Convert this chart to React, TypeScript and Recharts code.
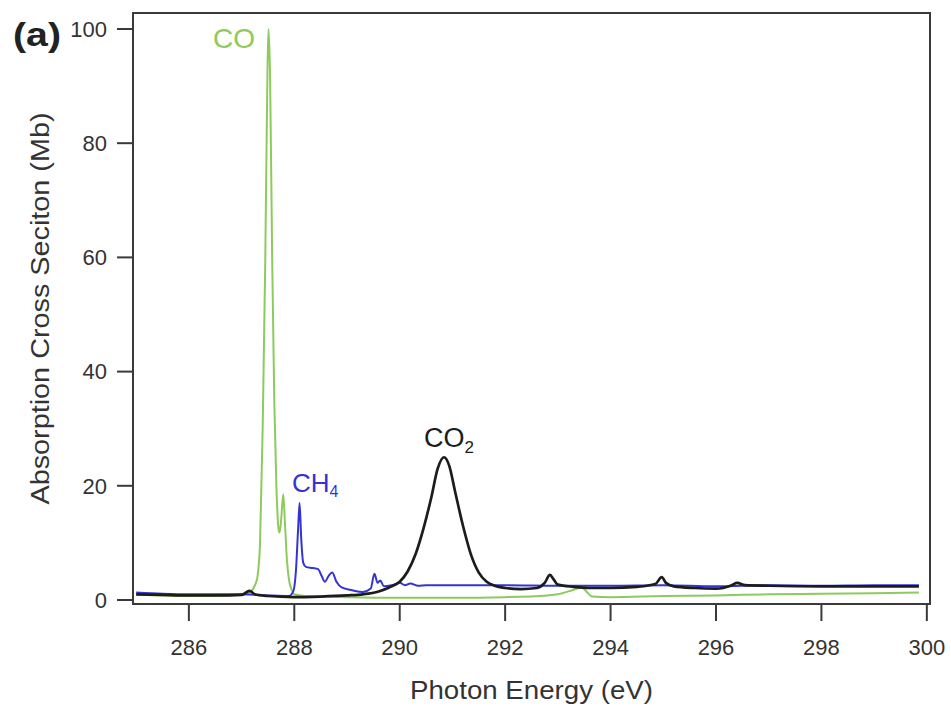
import React from 'react';
import { LineChart, Line, XAxis, YAxis, ReferenceArea, Label } from 'recharts';

// photon energy (eV) / cross section (Mb)
const coEnergy = [285.0, 285.5, 286.0, 286.5, 287.0, 287.15, 287.25, 287.3, 287.35, 287.4, 287.45, 287.49, 287.51, 287.54, 287.58, 287.62, 287.66, 287.7, 287.72, 287.75, 287.79, 287.82, 287.86, 287.9, 287.95, 288.0, 288.2, 289.0, 290.0, 291.0, 292.0, 292.8, 293.0, 293.3, 293.45, 293.55, 293.65, 294.0, 295.0, 296.0, 297.0, 298.0, 299.0, 299.85];
const coValues = [0.9, 0.8, 0.7, 0.7, 0.9, 1.3, 2.5, 4, 10, 30, 60, 92, 100, 92, 60, 35, 20, 12.5, 11.8, 14, 18.5, 14, 7, 3.5, 1.8, 1.0, 0.7, 0.5, 0.4, 0.4, 0.5, 0.8, 1.0, 1.8, 2.2, 1.4, 0.6, 0.5, 0.7, 0.8, 1.0, 1.1, 1.2, 1.3];

const ch4Energy = [285.0, 285.5, 286.0, 287.0, 287.5, 287.9, 287.98, 288.03, 288.07, 288.1, 288.13, 288.17, 288.22, 288.35, 288.45, 288.52, 288.58, 288.65, 288.72, 288.8, 288.9, 289.1, 289.3, 289.45, 289.52, 289.58, 289.63, 289.7, 289.85, 290.0, 290.1, 290.2, 290.35, 290.5, 291.0, 291.5, 292.0, 293.0, 294.0, 295.0, 296.0, 297.0, 298.0, 299.0, 299.85];
const ch4Values = [1.3, 1.1, 1.0, 1.0, 0.8, 0.7, 1.5, 5, 12, 17, 11, 6.5, 5.8, 5.6, 5.4, 4.2, 3.2, 4.2, 4.8, 3.2, 2.2, 1.7, 1.4, 2.0, 4.6, 3.0, 3.4, 2.4, 2.6, 3.0, 2.6, 2.9, 2.5, 2.6, 2.6, 2.6, 2.6, 2.5, 2.5, 2.6, 2.4, 2.6, 2.5, 2.6, 2.6];

const co2Energy = [285.0, 285.5, 286.0, 286.5, 287.0, 287.15, 287.25, 287.5, 288.0, 288.5, 289.0, 289.3, 289.6, 289.8, 290.0, 290.15, 290.3, 290.45, 290.6, 290.72, 290.84, 290.94, 291.05, 291.2, 291.35, 291.5, 291.65, 291.8, 292.0, 292.3, 292.6, 292.75, 292.85, 292.92, 293.0, 293.3, 293.6, 294.0, 294.5, 294.85, 294.97, 295.05, 295.2, 295.6, 296.0, 296.3, 296.4, 296.55, 297.0, 298.0, 299.0, 299.85];
const co2Values = [1.0, 0.9, 0.8, 0.8, 0.9, 1.6, 1.0, 0.7, 0.5, 0.6, 0.8, 1.0, 1.5, 2.2, 3.2, 5, 8, 12.5, 18, 23, 25, 23.5, 19, 13, 8, 4.8, 3.2, 2.5, 2.1, 1.9, 2.1, 3.0, 4.4, 3.6, 2.7, 2.3, 2.1, 2.1, 2.3, 2.8, 4.0, 3.0, 2.4, 2.1, 2.0, 2.6, 3.0, 2.6, 2.5, 2.4, 2.4, 2.4];

const xTicks = [286, 288, 290, 292, 294, 296, 298, 300];
const yTicks = [0, 20, 40, 60, 80, 100];

const X_DOMAIN: [number, number] = [284.94, 300.06];
const Y_DOMAIN: [number, number] = [-0.7, 102.8];

const toPoints = (xs: number[], ys: number[]) => xs.map((e, i) => ({ e, v: ys[i] }));

const coData = toPoints(coEnergy, coValues);
const ch4Data = toPoints(ch4Energy, ch4Values);
const co2Data = toPoints(co2Energy, co2Values);

const FONT = '"Liberation Sans", Arial, Helvetica, sans-serif';
const AXIS = '#3a3a3a';
const GREEN = '#8ccb5c';
const BLUE = '#3434d2';

const YTitle = (props: any) => {
  const { viewBox } = props;
  const cy = viewBox.y + viewBox.height / 2;
  return (
    <text
      x={40}
      y={cy}
      transform={`rotate(-90, 40, ${cy})`}
      textAnchor="middle"
      dominantBaseline="central"
      fontFamily={FONT}
      fontSize={25}
      fill="#333"
      textLength={392}
      lengthAdjust="spacingAndGlyphs"
    >
      Absorption Cross Seciton (Mb)
    </text>
  );
};

const XTitle = (props: any) => {
  const { viewBox } = props;
  const cx = viewBox.x + viewBox.width / 2;
  return (
    <text
      x={cx}
      y={699}
      textAnchor="middle"
      fontFamily={FONT}
      fontSize={25}
      fill="#333"
      textLength={243}
      lengthAdjust="spacingAndGlyphs"
    >
      Photon Energy (eV)
    </text>
  );
};

export default function App() {
  return (
    <div style={{ position: 'absolute', left: 0, top: 0, width: 951, height: 710, background: '#fff' }}>
      <LineChart width={951} height={710} margin={{ top: 13, right: 21, bottom: 0, left: 0 }}>
        <XAxis
          dataKey="e"
          type="number"
          domain={X_DOMAIN}
          allowDataOverflow
          ticks={xTicks}
          height={106}
          tickSize={17}
          tickMargin={18}
          stroke={AXIS}
          strokeWidth={2}
          tick={{ fill: '#333', fontSize: 22, fontFamily: FONT }}
        >
          <Label content={XTitle} />
        </XAxis>
        <YAxis
          dataKey="v"
          type="number"
          domain={Y_DOMAIN}
          allowDataOverflow
          ticks={yTicks}
          width={133}
          tickSize={16}
          tickMargin={10}
          stroke={AXIS}
          strokeWidth={2}
          tick={{ fill: '#333', fontSize: 22, fontFamily: FONT }}
        >
          <Label content={YTitle} />
        </YAxis>
        <ReferenceArea
          x1={X_DOMAIN[0]}
          x2={X_DOMAIN[1]}
          y1={Y_DOMAIN[0]}
          y2={Y_DOMAIN[1]}
          fill="none"
          stroke={AXIS}
          strokeWidth={2}
        />
        <Line data={coData} dataKey="v" type="monotone" stroke={GREEN} strokeWidth={2} dot={false} isAnimationActive={false} />
        <Line data={ch4Data} dataKey="v" type="monotone" stroke={BLUE} strokeWidth={2} dot={false} isAnimationActive={false} />
        <Line data={co2Data} dataKey="v" type="monotone" stroke="#1c1c1c" strokeWidth={2.7} dot={false} isAnimationActive={false} />
      </LineChart>
      <svg width={951} height={710} style={{ position: 'absolute', left: 0, top: 0, pointerEvents: 'none' }}>
        <text x={13} y={46} fontFamily={FONT} fontWeight="bold" fontSize={33} fill="#222" textLength={48} lengthAdjust="spacingAndGlyphs">(a)</text>
        <text x={213} y={48} fontFamily={FONT} fontSize={28} fill={GREEN}>CO</text>
        <text x={292} y={492} fontFamily={FONT} fontSize={26} fill={BLUE}>
          CH<tspan fontSize={16} dy={5}>4</tspan>
        </text>
        <text x={424} y={447} fontFamily={FONT} fontSize={27} fill="#1c1c1c">
          CO<tspan fontSize={17} dy={6}>2</tspan>
        </text>
      </svg>
    </div>
  );
}
